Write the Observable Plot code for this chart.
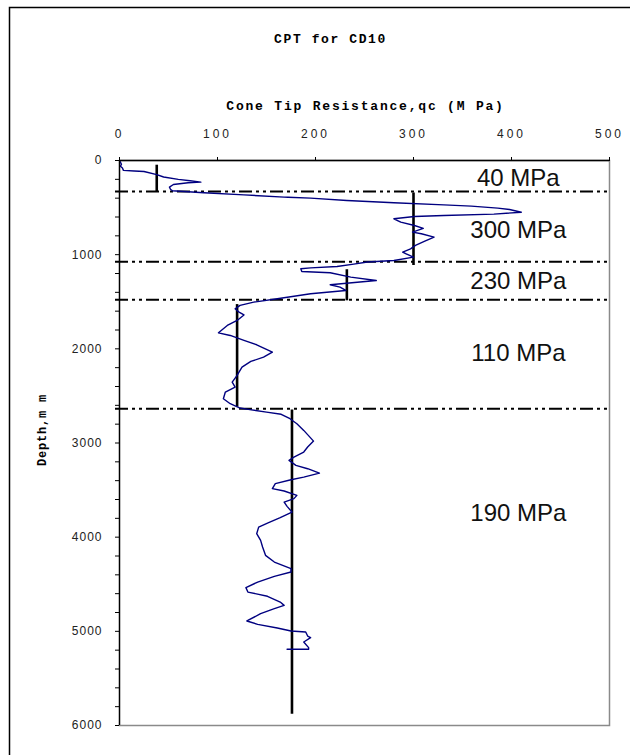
<!DOCTYPE html>
<html><head><meta charset="utf-8">
<script src="https://cdn.jsdelivr.net/npm/d3@7"></script>
<script src="https://cdn.jsdelivr.net/npm/@observablehq/plot@0.6"></script>
<style>body{margin:0;background:#fff}#chart{width:630px;height:755px;overflow:hidden}</style>
</head><body><div id="chart"></div>
<script>
// ---- data ----
const titleText = "CPT for CD10";
const xTitle = "Cone Tip Resistance,qc (M Pa)";
const yTitle = "Depth,m m";
const xTicks = [0, 100, 200, 300, 400, 500];
const yTicks = [0, 1000, 2000, 3000, 4000, 5000, 6000];
const yMinor = [200,400,600,800,1200,1400,1600,1800,2200,2400,2600,2800,3200,3400,3600,3800,4200,4400,4600,4800,5200,5400,5600,5800];

// CPT trace: cone tip resistance (MPa) vs depth (mm)
const qc = [0.5,2,1,3,4,15,25,38,45,60,72,83,70,55,51,52,54,86,127,168,172,195,232,280,331,359,386,398,410,382,331,301,280,287,301,310,299,308,321,311,302,297,289,292,300,280,253,239,222,195,185,186,215,236,262,215,225,231,195,161,137,123,118,122,127,120,110,101,113,127,140,156,147,134,125,120,115,118,108,106,113,123,133,150,165,174,181,188,198,192,188,178,173,180,192,204,188,175,159,156,168,181,178,168,171,176,164,151,142,140,144,146,149,158,175,175,158,141,129,131,151,164,168,158,144,130,141,161,175,190,192,195,188,193,193,171];
const depth = [10,40,60,80,105,112,117,150,175,200,215,230,236,255,283,305,322,343,365,389,390,400,425,449,471,485,506,520,549,570,584,594,619,655,690,720,760,778,814,860,902,938,973,990,1026,1062,1078,1100,1125,1140,1150,1178,1192,1239,1275,1320,1345,1380,1415,1468,1504,1539,1575,1610,1640,1699,1752,1830,1858,1911,1957,2035,2088,2134,2194,2282,2353,2406,2459,2530,2583,2629,2645,2672,2695,2742,2796,2866,2980,3043,3096,3150,3185,3238,3273,3320,3362,3390,3432,3485,3510,3556,3591,3627,3673,3733,3793,3850,3893,3963,4034,4105,4193,4264,4335,4370,4416,4477,4536,4583,4628,4689,4724,4759,4812,4890,4926,4965,4997,5007,5050,5067,5113,5173,5190,5190];

// layer boundaries (depth, mm)
const boundaries = [330, 1075, 1480, 2635];
// representative qc per layer, and the depth span of each line
const avgQc = [38, 300, 232, 120, 176];
const avgTop = [50, 345, 1160, 1530, 2650];
const avgBottom = [330, 1115, 1490, 2620, 5880];
// layer annotation text and where it sits (qc, depth)
const layerText = ["40 MPa", "300 MPa", "230 MPa", "110 MPa", "190 MPa"];
const layerTextQc = [407, 407, 407, 407, 407];
const layerTextDepth = [191, 743, 1284, 2049, 3750];

// ---- tables for Plot ----
const cpt = qc.map((q, i) => ({qc: q, depth: depth[i]}));
const avgRows = avgQc.map((q, i) => ({q, top: avgTop[i], bottom: avgBottom[i]}));
const labelRows = layerText.map((t, i) => ({t, q: layerTextQc[i], d: layerTextDepth[i]}));

const mono = "'Liberation Mono','Courier New',monospace";
const sans = "'Liberation Sans',Arial,sans-serif";

const chart = Plot.plot({
  width: 630, height: 755,
  marginTop: 160, marginBottom: 30, marginLeft: 119, marginRight: 21,
  x: {domain: [0, 500], label: null},
  y: {domain: [0, 6000], reverse: true, label: null},
  style: {background: "white", fontFamily: sans, color: "black"},
  marks: [
    Plot.frame({stroke: "#8a8a8a", strokeWidth: 1.5}),
    Plot.ruleY(boundaries, {stroke: "black", strokeWidth: 2, strokeDasharray: "13,4,3,4,3,4", insetLeft: -4}),
    Plot.ruleX(avgRows, {x: "q", y1: "top", y2: "bottom", stroke: "black", strokeWidth: 2.6}),
    Plot.line(cpt, {x: "qc", y: "depth", stroke: "#000080", strokeWidth: 1.4}),
    Plot.ruleX([0], {stroke: "black", strokeWidth: 1.3}),
    Plot.ruleY([0], {stroke: "black", strokeWidth: 1.3}),
    Plot.axisX({anchor: "top", ticks: xTicks, tickSize: 4, tickPadding: 19, fontSize: 12, label: null, tickFormat: d => String(d)}),
    Plot.axisY({anchor: "left", ticks: yTicks, tickSize: 4, tickPadding: 13, fontSize: 12, label: null, tickFormat: d => String(d)}),
    Plot.axisY({anchor: "left", ticks: yMinor, tickSize: 4, tickFormat: () => "", label: null}),
    Plot.text(labelRows, {x: "q", y: "d", text: "t", fontSize: 24, fontFamily: sans, fill: "#111"}),
    Plot.text([titleText], {frameAnchor: "top", dx: -34, dy: -127, fontFamily: mono, fontWeight: "bold", fontSize: 13}),
    Plot.text([xTitle], {frameAnchor: "top", dx: 1, dy: -60, fontFamily: mono, fontWeight: "bold", fontSize: 13})
  ]
});

const svg = d3.select(chart);
svg.selectAll('g[aria-label="x-axis tick label"]').attr("letter-spacing", "3px").attr("fill", "#222");
svg.selectAll('g[aria-label="y-axis tick label"]').attr("letter-spacing", "1px").attr("fill", "#222");
svg.selectAll("text").filter(function () { return this.textContent === titleText; }).attr("letter-spacing", "1.6px");
svg.selectAll("text").filter(function () { return this.textContent === xTitle; }).attr("letter-spacing", "1.8px");
// y-axis title (rotated)
svg.append("text")
  .attr("transform", "translate(43,430) rotate(-90)")
  .attr("text-anchor", "middle").attr("dominant-baseline", "middle")
  .attr("font-family", mono).attr("font-weight", "bold").attr("font-size", 12)
  .attr("letter-spacing", "0.8px")
  .text(yTitle);
// outer chart border
svg.append("rect").attr("x", 9.5).attr("y", 7.5).attr("width", 700).attr("height", 800)
  .attr("fill", "none").attr("stroke", "black").attr("stroke-width", 1.5);

document.getElementById("chart").appendChild(chart);
</script></body></html>
